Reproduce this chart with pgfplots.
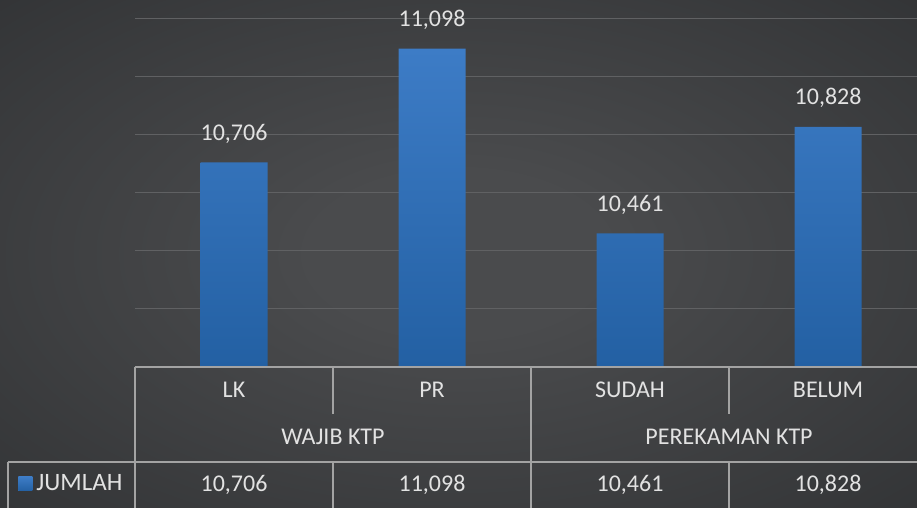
\documentclass[border=0pt]{standalone}
\usepackage{fontspec}
\setmainfont{Carlito}
\usepackage{pgfplots}
\pgfplotsset{compat=1.18}
\definecolor{bgin}{HTML}{4A4B4D}
\definecolor{bgout}{HTML}{1F2123}
\definecolor{gridc}{HTML}{606163}
\definecolor{linec}{HTML}{A3A3A3}
\definecolor{txtc}{HTML}{E2E2E2}
\definecolor{bartop}{HTML}{3D7CC6}
\definecolor{barbot}{HTML}{2360A3}
\pgfdeclareradialshading{bgshade}{\pgfpoint{0bp}{0bp}}{color(0bp)=(bgin); color(8bp)=(bgin); color(60bp)=(bgout)}

\begin{document}
\begin{tikzpicture}[font=\fontsize{12pt}{14pt}\selectfont]
% background, 1px = 0.5pt, origin at the lower left of the plot area
\shade[shading=bgshade] (-67.5pt,-70.5pt) rectangle (391pt,183.5pt);
\begin{axis}[
  at={(0,0)}, anchor=south west,
  scale only axis, width=391pt, height=183.5pt,
  xmin=-0.5, xmax=3.449,
  ymin=10000, ymax=11265.5,
  y coord trafo/.code={\pgfmathparse{#1-10000}},
  y coord inv trafo/.code={\pgfmathparse{#1+10000}},
  ytick={10000,10200,10400,10600,10800,11000,11200},
  yticklabels={},
  ymajorgrids, grid style={gridc, line width=0.5pt},
  axis line style={draw=none},
  major tick length=0pt,
  xtick={0,1,2,3},
  xticklabels={LK,PR,SUDAH,BELUM},
  xticklabel style={text=txtc, anchor=center, yshift=-11.5pt},
  /pgf/number format/assume math mode=true,
  legend style={at={(axis description cs:0,0)}, anchor=west, xshift=-58.5pt, yshift=-58.5pt,
    draw=none, fill=none, inner sep=0pt, text=txtc, font=\fontsize{12.5pt}{14pt}\selectfont,
    /tikz/every even column/.append style={column sep=1pt}},
  legend image code/.code={\fill[bartop] (0pt,-3.5pt) rectangle (7pt,3.5pt);},
]
\addplot[ybar, bar width=33.5pt, draw=none, top color=bartop, bottom color=barbot,
  point meta=rawy, nodes near coords,
  every node near coord/.append style={text=txtc, anchor=base, yshift=11pt}]
  coordinates {(0,10706) (1,11098) (2,10461) (3,10828)};
\addlegendentry{JUMLAH}
\end{axis}
% data table under the plot
\draw[linec, line width=0.7pt]
  (0,0) -- (391pt,0)
  (0,0) -- (0,-70.5pt)
  (198pt,0) -- (198pt,-70.5pt)
  (99pt,0) -- (99pt,-23.5pt)
  (297pt,0) -- (297pt,-23.5pt)
  (-63.5pt,-47.5pt) -- (391pt,-47.5pt)
  (-63.5pt,-47.5pt) -- (-63.5pt,-70.5pt)
  (99pt,-47.5pt) -- (99pt,-70.5pt)
  (297pt,-47.5pt) -- (297pt,-70.5pt);
\node[text=txtc] at (99pt,-35pt) {WAJIB KTP};
\node[text=txtc] at (297pt,-35pt) {PEREKAMAN KTP};
\node[text=txtc] at (49.5pt,-59pt) {10,706};
\node[text=txtc] at (148.5pt,-59pt) {11,098};
\node[text=txtc] at (247.5pt,-59pt) {10,461};
\node[text=txtc] at (346.5pt,-59pt) {10,828};
\pgfresetboundingbox
\path (-67.5pt,-70.5pt) rectangle (391pt,183.5pt);
\end{tikzpicture}
\end{document}
